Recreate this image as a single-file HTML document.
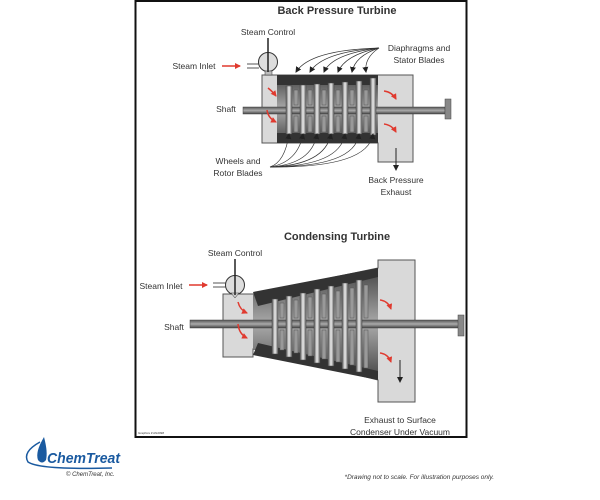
<!DOCTYPE html>
<html><head><meta charset="utf-8"><style>
html,body{margin:0;padding:0;background:#fff;width:600px;height:500px;overflow:hidden}
svg{display:block}
text{font-family:"Liberation Sans",sans-serif;fill:#333}
</style></head><body>
<svg width="600" height="500" viewBox="0 0 600 500" xmlns="http://www.w3.org/2000/svg">
<defs>
<linearGradient id="disc" x1="0" x2="1" y1="0" y2="0">
<stop offset="0" stop-color="#555"/><stop offset=".5" stop-color="#eee"/><stop offset="1" stop-color="#666"/></linearGradient>
<linearGradient id="cav" x1="0" x2="0" y1="0" y2="1">
<stop offset="0" stop-color="#444"/><stop offset=".5" stop-color="#aaa"/><stop offset="1" stop-color="#444"/></linearGradient>
<linearGradient id="shaft" x1="0" x2="0" y1="0" y2="1">
<stop offset="0" stop-color="#555"/><stop offset=".5" stop-color="#aaa"/><stop offset="1" stop-color="#444"/></linearGradient>
<marker id="ah" markerUnits="userSpaceOnUse" markerWidth="6" markerHeight="6" refX="5" refY="3" orient="auto"><path d="M0,0 L6,3 L0,6z" fill="#222"/></marker>
<marker id="rh" markerUnits="userSpaceOnUse" markerWidth="6" markerHeight="6" refX="5" refY="3" orient="auto"><path d="M0,0 L6,3 L0,6z" fill="#e03a2f"/></marker>
</defs>
<rect x="135.5" y="1" width="331" height="436" fill="#fff" stroke="#111" stroke-width="2"/>

<!-- TOP -->
<text x="337" y="14" font-size="11" font-weight="bold" text-anchor="middle" fill="#222">Back Pressure Turbine</text>
<text x="268" y="35" font-size="8.5" text-anchor="middle">Steam Control</text>
<text x="194" y="69" font-size="8.5" text-anchor="middle">Steam Inlet</text>
<line x1="222" y1="66" x2="240" y2="66" stroke="#e03a2f" stroke-width="1.5" marker-end="url(#rh)"/>
<line x1="247" y1="64" x2="259" y2="64" stroke="#555"/><line x1="247" y1="68" x2="259" y2="68" stroke="#555"/>
<path d="M262,75 H413 V162 H378 V143 H262Z" fill="#d9d9d9" stroke="#555" stroke-width="1"/>
<rect x="277" y="75" width="101" height="68" fill="url(#cav)"/>
<rect x="277" y="75" width="101" height="10" fill="#333"/>
<rect x="277" y="133" width="101" height="10" fill="#333"/>
<rect x="243" y="107" width="202" height="7" fill="url(#shaft)" stroke="#444" stroke-width=".5"/>
<rect x="445" y="99" width="6" height="20" fill="#888" stroke="#444" stroke-width=".5"/>
<g fill="url(#disc)" stroke="#444" stroke-width=".5">
<rect x="286" y="86" width="6" height="48"/><rect x="300" y="85" width="6" height="49"/><rect x="314" y="84" width="6" height="50"/><rect x="328" y="83" width="6" height="51"/><rect x="342" y="82" width="6" height="52"/><rect x="356" y="81" width="6" height="53"/><rect x="370" y="78" width="6" height="57"/>
</g>
<g fill="#999" stroke="#555" stroke-width=".5">
<rect x="294" y="90" width="4" height="15"/><rect x="308" y="90" width="4" height="15"/><rect x="322" y="90" width="4" height="15"/><rect x="336" y="90" width="4" height="15"/><rect x="350" y="90" width="4" height="15"/><rect x="364" y="90" width="4" height="15"/>
<rect x="294" y="116" width="4" height="16"/><rect x="308" y="116" width="4" height="16"/><rect x="322" y="116" width="4" height="16"/><rect x="336" y="116" width="4" height="16"/><rect x="350" y="116" width="4" height="16"/><rect x="364" y="116" width="4" height="16"/>
</g>
<circle cx="268" cy="62" r="9.5" fill="#ddd" stroke="#333"/>
<rect x="265" y="71" width="7" height="4" fill="#bbb" stroke="#333" stroke-width=".5"/>
<line x1="268" y1="38" x2="268" y2="72" stroke="#222" stroke-width="1.5"/>
<g fill="none" stroke="#e03a2f" stroke-width="1.5" marker-end="url(#rh)">
<path d="M268,88 Q273,92 276,96"/><path d="M267,110 Q268,118 276,122"/>
<path d="M384,91 Q392,92 396,99"/><path d="M384,124 Q392,125 396,132"/>
</g>
<line x1="396" y1="148" x2="396" y2="170" stroke="#222" marker-end="url(#ah)"/>
<text x="396" y="183" font-size="8.5" text-anchor="middle">Back Pressure</text>
<text x="396" y="195" font-size="8.5" text-anchor="middle">Exhaust</text>
<text x="419" y="51" font-size="8.5" text-anchor="middle">Diaphragms and</text>
<text x="419" y="63" font-size="8.5" text-anchor="middle">Stator Blades</text>
<g fill="none" stroke="#333" stroke-width=".7" marker-end="url(#ah)">
<path d="M379,48 Q310,50 296,72"/><path d="M379,48 Q322,52 310,72"/><path d="M379,48 Q332,54 324,72"/><path d="M379,48 Q345,55 338,72"/><path d="M379,48 Q355,56 352,72"/><path d="M379,48 Q364,58 366,72"/>
</g>
<text x="238" y="164" font-size="8.5" text-anchor="middle">Wheels and</text>
<text x="238" y="176" font-size="8.5" text-anchor="middle">Rotor Blades</text>
<g fill="none" stroke="#333" stroke-width=".7" marker-end="url(#ah)">
<path d="M270,167 Q285,162 289,134"/><path d="M270,167 Q298,162 303,134"/><path d="M270,167 Q312,164 317,134"/><path d="M270,167 Q325,165 331,134"/><path d="M270,167 Q340,166 345,134"/><path d="M270,167 Q355,167 359,134"/><path d="M270,167 Q368,168 373,134"/>
</g>
<text x="226" y="112" font-size="8.5" text-anchor="middle">Shaft</text>

<!-- BOTTOM -->
<text x="337" y="240" font-size="11" font-weight="bold" text-anchor="middle" fill="#222">Condensing Turbine</text>
<text x="235" y="256" font-size="8.5" text-anchor="middle">Steam Control</text>
<text x="161" y="289" font-size="8.5" text-anchor="middle">Steam Inlet</text>
<line x1="189" y1="285" x2="207" y2="285" stroke="#e03a2f" stroke-width="1.5" marker-end="url(#rh)"/>
<line x1="213" y1="283" x2="226" y2="283" stroke="#555"/><line x1="213" y1="287" x2="226" y2="287" stroke="#555"/>
<path d="M223,294 H253 L378,268 V260 H415 V402 H378 V380 L253,349 V357 H223Z" fill="#d9d9d9" stroke="#555"/>
<path d="M253,294 L378,268 V380 L253,349Z" fill="url(#cav)"/>
<path d="M253,292 L378,268 V277 L258,306Z" fill="#333"/>
<path d="M258,343 L378,371 V380 L253,355Z" fill="#333"/>
<rect x="190" y="320" width="270" height="8" fill="url(#shaft)" stroke="#444" stroke-width=".5"/>
<rect x="458" y="315" width="6" height="21" fill="#888" stroke="#444" stroke-width=".5"/>
<g fill="url(#disc)" stroke="#444" stroke-width=".5">
<rect x="272" y="299" width="6" height="55"/><rect x="286" y="296" width="6" height="61"/><rect x="300" y="293" width="6" height="67"/><rect x="314" y="289" width="6" height="74"/><rect x="328" y="286" width="6" height="80"/><rect x="342" y="283" width="6" height="86"/><rect x="356" y="280" width="6" height="92"/>
</g>
<g fill="#999" stroke="#555" stroke-width=".5">
<rect x="280" y="303" width="4" height="15"/><rect x="294" y="300" width="4" height="18"/><rect x="308" y="297" width="4" height="21"/><rect x="322" y="294" width="4" height="24"/><rect x="336" y="291" width="4" height="27"/><rect x="350" y="288" width="4" height="30"/><rect x="364" y="285" width="4" height="33"/>
<rect x="280" y="330" width="4" height="20"/><rect x="294" y="330" width="4" height="23"/><rect x="308" y="330" width="4" height="26"/><rect x="322" y="330" width="4" height="29"/><rect x="336" y="330" width="4" height="32"/><rect x="350" y="330" width="4" height="35"/><rect x="364" y="330" width="4" height="38"/>
</g>
<circle cx="235" cy="285" r="9.5" fill="#ddd" stroke="#333"/>
<path d="M231,293 L235,298 L239,293Z" fill="#ccc" stroke="#333" stroke-width=".5"/>
<line x1="235" y1="259" x2="235" y2="295" stroke="#222" stroke-width="1.5"/>
<g fill="none" stroke="#e03a2f" stroke-width="1.5" marker-end="url(#rh)">
<path d="M238,302 Q240,310 247,313"/><path d="M238,324 Q239,334 247,338"/>
<path d="M380,300 Q388,301 391,309"/><path d="M380,353 Q388,354 391,362"/>
</g>
<line x1="400" y1="360" x2="400" y2="382" stroke="#222" marker-end="url(#ah)"/>
<text x="400" y="423" font-size="8.5" text-anchor="middle">Exhaust to Surface</text>
<text x="400" y="435" font-size="8.5" text-anchor="middle">Condenser Under Vacuum</text>
<text x="174" y="330" font-size="8.5" text-anchor="middle">Shaft</text>
<text x="138" y="434" font-size="3" fill="#666">Graphics # AN2098</text>

<!-- Logo -->
<path d="M40,442 Q22,452 28,462 Q40,470 112,468" fill="none" stroke="#1a5aa0" stroke-width="1.5"/>
<path d="M44,437 Q35,452 38,460 Q42,465 46,460 Q48,452 44,437Z" fill="#1a5aa0"/>
<text x="47" y="463" font-size="15" font-weight="bold" font-style="italic" textLength="73" lengthAdjust="spacingAndGlyphs" style="fill:#1a5aa0">ChemTreat</text>
<text x="66" y="476" font-size="6" font-style="italic" fill="#555">© ChemTreat, Inc.</text>
<text x="494" y="479" font-size="6.5" font-style="italic" text-anchor="end" fill="#444">*Drawing not to scale. For illustration purposes only.</text>
</svg>
</body></html>
